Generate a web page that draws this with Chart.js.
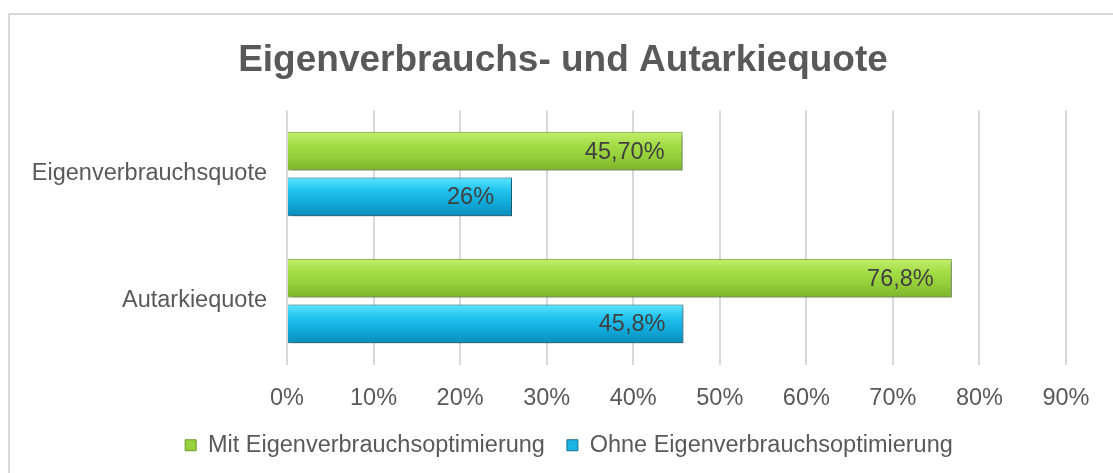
<!DOCTYPE html>
<html>
<head>
<meta charset="utf-8">
<script src="https://cdn.jsdelivr.net/npm/chart.js@4"></script>
<style>
  html, body { margin: 0; padding: 0; background: #fff; overflow: hidden; }
  #frame { position: absolute; left: 8px; top: 13px; width: 1200px; height: 600px; border: 2px solid #d9d9d9; }
  #wrap { position: absolute; left: 0; top: 0; width: 1113px; height: 473px; }
</style>
</head>
<body>
<div id="frame"></div>
<div id="wrap"><canvas id="quoteChart" width="1113" height="473"></canvas></div>
<script>
// Data
const categories = ['Eigenverbrauchsquote', 'Autarkiequote'];
const seriesNames = ['Mit Eigenverbrauchsoptimierung', 'Ohne Eigenverbrauchsoptimierung'];
const mitValues = [45.7, 76.8];
const ohneValues = [26, 45.8];
const mitLabels = ['45,70%', '76,8%'];
const ohneLabels = ['26%', '45,8%'];
const xTicks = [0, 10, 20, 30, 40, 50, 60, 70, 80, 90];

const FONT = '"Liberation Sans", Arial, sans-serif';
const TEXT = '#595959';

// vertical shading for each series (top -> bottom)
const shades = [
    ['#c3ee6e', '#a4dd47', '#93cd38', '#7db42b'],
    ['#5ae6ff', '#22c3ee', '#10a9d9', '#0b8cba']
];

// Gives each bar its own top-to-bottom gradient and a soft shadow
const bevelPlugin = {
    id: 'bevel',
    beforeDatasetsDraw(chart) {
        const c = chart.ctx;
        chart.data.datasets.forEach((ds, i) => {
            const meta = chart.getDatasetMeta(i);
            meta.data.forEach(bar => {
                const top = bar.y - bar.height / 2;
                const bottom = bar.y + bar.height / 2;
                const g = c.createLinearGradient(0, top, 0, bottom);
                const s = shades[i];
                s.forEach((col, k) => g.addColorStop(k / (s.length - 1), col));
                bar.options = Object.assign({}, bar.options, { backgroundColor: g });
            });
        });
    },
    beforeDatasetDraw(chart) {
        const c = chart.ctx;
        c.save();
        c.shadowColor = 'rgba(0,0,0,0.4)';
        c.shadowBlur = 4;
        c.shadowOffsetX = 2;
        c.shadowOffsetY = 2;
    },
    afterDatasetDraw(chart) {
        chart.ctx.restore();
    }
};

// Value labels inside the end of each bar
const valueLabelPlugin = {
    id: 'valueLabels',
    afterDatasetsDraw(chart) {
        const c = chart.ctx;
        const labelSets = [mitLabels, ohneLabels];
        c.save();
        c.font = '23.5px ' + FONT;
        c.fillStyle = '#404040';
        c.textAlign = 'right';
        c.textBaseline = 'middle';
        chart.data.datasets.forEach((ds, i) => {
            chart.getDatasetMeta(i).data.forEach((bar, j) => {
                c.fillText(labelSets[i][j], bar.x - 18, bar.y + 1);
            });
        });
        c.restore();
    }
};

// Title and legend are centred on the whole frame, not just left of the padding
const centrePlugin = {
    id: 'centre',
    afterLayout(chart) {
        if (chart.titleBlock) chart.titleBlock.left = 60;
        if (chart.legend) chart.legend.left = 72;
    }
};

const ctx = document.getElementById('quoteChart').getContext('2d');
const quoteChart = new Chart(ctx, {
    type: 'bar',
    data: {
        labels: categories,
        datasets: [
            {
                label: seriesNames[0],
                data: mitValues,
                backgroundColor: '#96d23c',
                borderColor: '#6c9a26',
                borderWidth: 1,
                categoryPercentage: 0.72,
                barPercentage: 0.848
            },
            {
                label: seriesNames[1],
                data: ohneValues,
                backgroundColor: '#18b4e2',
                borderColor: '#17708f',
                borderWidth: 1,
                categoryPercentage: 0.72,
                barPercentage: 0.848
            }
        ]
    },
    options: {
        indexAxis: 'y',
        responsive: false,
        animation: false,
        layout: { padding: { top: 0, right: 47, bottom: 6, left: 0 } },
        plugins: {
            title: {
                display: true,
                text: 'Eigenverbrauchs- und Autarkiequote',
                color: TEXT,
                font: { family: FONT, size: 37, weight: 'bold' },
                padding: { top: 39, bottom: 27 }
            },
            legend: {
                position: 'bottom',
                labels: {
                    color: TEXT,
                    font: { family: FONT, size: 23.5 },
                    boxWidth: 11,
                    boxHeight: 11,
                    padding: 22
                }
            },
            tooltip: { enabled: false }
        },
        scales: {
            x: {
                min: xTicks[0],
                max: xTicks[xTicks.length - 1],
                afterBuildTicks(axis) {
                    axis.ticks = xTicks.map(v => ({ value: v }));
                },
                afterFit(axis) { axis.height = 47; },
                grid: { color: '#d9d9d9', lineWidth: 2, drawTicks: false },
                border: { display: false },
                ticks: {
                    color: TEXT,
                    font: { family: FONT, size: 23.5 },
                    padding: 20,
                    callback: v => v + '%'
                }
            },
            y: {
                afterFit(axis) { axis.width = 287; },
                grid: { display: false },
                border: { display: false },
                ticks: {
                    color: TEXT,
                    font: { family: FONT, size: 23.5 },
                    padding: 12
                }
            }
        }
    },
    plugins: [bevelPlugin, valueLabelPlugin, centrePlugin]
});
</script>
</body>
</html>
